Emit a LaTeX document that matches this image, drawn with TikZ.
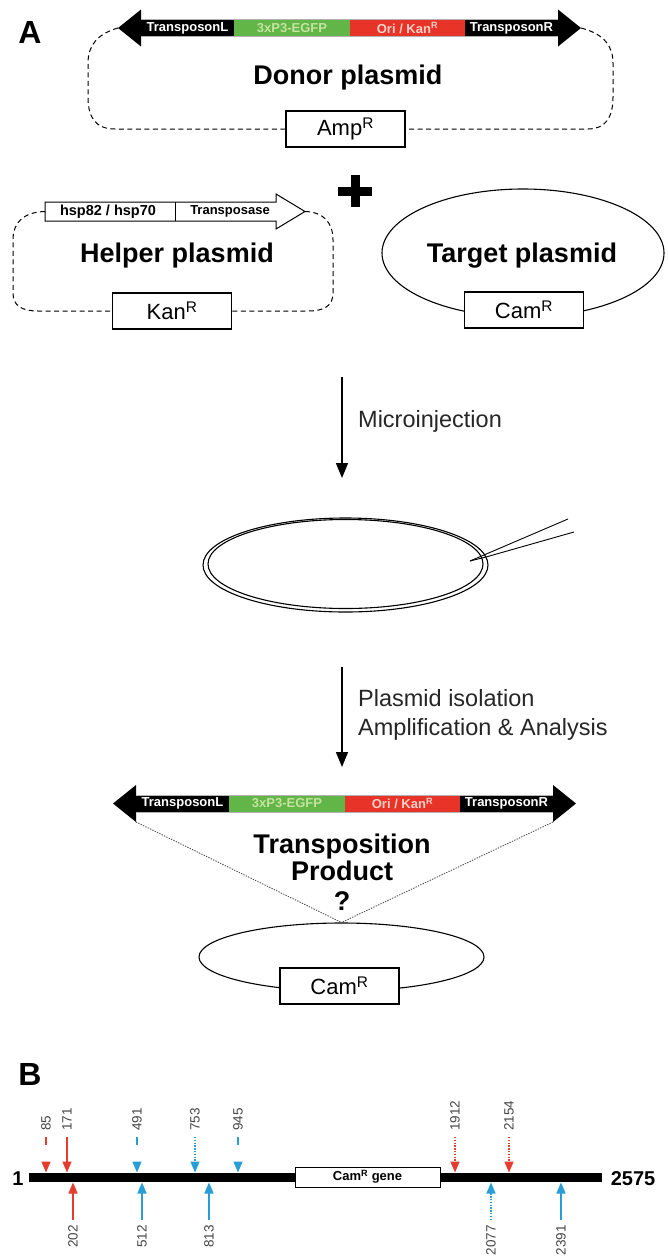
\documentclass[tikz,border=0pt]{standalone}
\usepackage{fontspec}
\setmainfont{Liberation Sans}
\usetikzlibrary{arrows.meta,shapes.geometric}
\definecolor{tngreen}{RGB}{98,181,71}
\definecolor{tnred}{RGB}{232,52,40}
\definecolor{tngtext}{RGB}{196,228,160}
\definecolor{tnrtext}{RGB}{255,208,200}
\definecolor{ptred}{RGB}{230,60,45}
\definecolor{ptblue}{RGB}{40,158,214}
\definecolor{lblgray}{RGB}{70,70,70}
\newcommand\myfs[1]{\fontsize{#1}{#1}\selectfont}
\tikzset{
  tnlab/.style={font=\myfs{13}\bfseries, inner sep=0},
  plbox/.style={draw, fill=white, line width=1.1pt, minimum width=119, minimum height=36, inner sep=0, font=\myfs{22}},
  pltitle/.style={font=\myfs{27}\bfseries, anchor=base, inner sep=0},
  proclab/.style={font=\myfs{23.5}, anchor=base west, inner sep=0, text=black!85},
  plloop/.style={dash pattern=on 5pt off 3.5pt, line width=1pt},
  flowarr/.style={-{Triangle[length=15pt,width=12pt]}, line width=1.5pt},
  plring/.style={draw, ellipse, inner sep=0, line width=1.1pt},
  prodline/.style={dash pattern=on 1.3pt off 1.3pt, line width=0.9pt, black!70},
  btip/.style={-{Triangle[length=11pt,width=9pt]}, line width=1.4pt},
  bsolid/.style={},
  bdash/.style={dash pattern=on 8pt off 40pt},
  bdot/.style={dash pattern=on 1.4pt off 1.4pt},
  blab/.style={font=\myfs{13.5}, text=lblgray, inner sep=0},
  tnbar/.pic={
    \fill[black] (0,0) -- (23,-18.5) -- (23,-8.5) -- (440,-8.5) -- (440,-18.5) -- (463,0)
      -- (440,18.5) -- (440,8.5) -- (23,8.5) -- (23,18.5) -- cycle;
    \fill[tngreen] (116,-8.5) rectangle (232,8.5);
    \fill[tnred] (232,-8.5) rectangle (347,8.5);
    \draw[gray!60, line width=0.5pt] (23,-8.5) -- (440,-8.5) (23,8.5) -- (440,8.5);
    \node[tnlab, text=white] (-tl) at (69.5,0) {TransposonL};
    \node[tnlab, text=tngtext] (-eg) at (174,0) {3xP3-EGFP};
    \node[tnlab, text=tnrtext] (-ok) at (289.5,0) {Ori / Kan\textsuperscript{R}};
    \node[tnlab, text=white] (-tr) at (393.5,0) {TransposonR};
    \coordinate (-lt) at (0,0);
    \coordinate (-rt) at (463,0);
    \coordinate (-lb) at (23,18.5);
    \coordinate (-rb) at (440,18.5);
  }
}
\begin{document}
\begin{tikzpicture}[x=1pt,y=-1pt]
\useasboundingbox[fill=white] (0,0) rectangle (667,1258);

% ---------- A ----------
\node[font=\myfs{32}\bfseries, anchor=base, inner sep=0] (labA) at (30,43) {A};

% Donor plasmid
\node[plbox] (amp) at (345.5,129) {Amp\textsuperscript{R}};
\pic (top) at (118,28) {tnbar};
\draw[plloop] (top-lt) .. controls (97,34) and (88,46) .. (88,63) -- (88,97)
  .. controls (88,118) and (96,129) .. (115,129) -- (amp.west);
\draw[plloop] (top-rt) .. controls (604,34) and (613,46) .. (613,63) -- (613,97)
  .. controls (613,118) and (605,129) .. (588,129) -- (amp.east);
\node[pltitle] (dtitle) at (348,84) {Donor plasmid};

% plus
\fill (338,186.5) rectangle (372,195.5);
\fill (350.5,175) rectangle (359.5,207);

% Helper plasmid
\node[plbox] (kan) at (172,311) {Kan\textsuperscript{R}};
\draw[line width=1pt, fill=white] (45,202) -- (276,202) -- (276,194) -- (305,211.5)
  -- (276,229) -- (276,221) -- (45,221) -- cycle;
\draw[line width=1pt] (175,202) -- (175,221);
\coordinate (htail) at (45,211.5);
\coordinate (htip) at (305,211.5);
\node[font=\myfs{14.5}\bfseries, inner sep=0] (hsp) at (108,211.5) {hsp82 / hsp70};
\node[font=\myfs{13}\bfseries, inner sep=0] (tps) at (230,211.5) {Transposase};
\draw[plloop] (htail) .. controls (24,212) and (13,222) .. (13,240) -- (13,293)
  .. controls (13,306) and (22,311) .. (38,311) -- (kan.west);
\draw[plloop] (htip) .. controls (323,212) and (333,222) .. (333,240) -- (333,293)
  .. controls (333,306) and (324,311) .. (308,311) -- (kan.east);
\node[pltitle] (htitle) at (177,262) {Helper plasmid};

% Target plasmid
\node[plring, minimum width=282, minimum height=128] (tgt) at (523,253) {};
\node[plbox] (cam1) at (524,310) {Cam\textsuperscript{R}};
\node[pltitle] (ttitle) at (522,262) {Target plasmid};

% Microinjection
\coordinate (a1s) at (342,377);
\coordinate (a1e) at (342,478);
\draw[flowarr] (a1s) -- (a1e);
\node[proclab] (mi) at (358,427) {Microinjection};

\node[plring, minimum width=285, minimum height=94] (injo) at (345.5,565) {};
\node[plring, minimum width=275, minimum height=89] (inji) at (345.5,564) {};
\coordinate (nd1) at (568,519);
\coordinate (nd2) at (574,532);
\coordinate (ndk) at (486,557);
\coordinate (ndt) at (470,561);
\draw[line width=0.9pt] (nd1) -- (ndt);
\draw[line width=0.9pt] (nd2) -- (ndk) -- (ndt);

% Plasmid isolation
\coordinate (a2s) at (342,667);
\coordinate (a2e) at (342,767);
\draw[flowarr] (a2s) -- (a2e);
\node[proclab] (pi1) at (358,706) {Plasmid isolation};
\node[proclab] (pi2) at (358,735) {Amplification \& Analysis};

% Transposition product
\pic (bot) at (113,803.5) {tnbar};
\node[plring, minimum width=285, minimum height=68] (prod) at (341.5,957) {};
\draw[prodline] (bot-lb) -- (prod.north);
\draw[prodline] (bot-rb) -- (prod.north);
\node[plbox] (cam2) at (339.5,986) {Cam\textsuperscript{R}};
\node[pltitle] (tp1) at (342,853) {Transposition};
\node[pltitle] (tp2) at (342,880) {Product};
\node[pltitle] (tp3) at (342,910) {?};

% ---------- B ----------
\node[font=\myfs{32}\bfseries, anchor=base, inner sep=0] (labB) at (30,1085) {B};
\fill (29,1173) rectangle (602,1182);
\node[draw, fill=white, line width=1pt, minimum width=145, minimum height=20, inner sep=0,
  font=\myfs{13}\bfseries] (camg) at (367.5,1177) {Cam\textsuperscript{R} gene};
\node[font=\myfs{20}\bfseries, anchor=base, inner sep=0] (one) at (18,1185) {1};
\node[font=\myfs{20}\bfseries, anchor=base, inner sep=0] (end) at (633,1185) {2575};

\foreach \x/\lab/\col/\sty in {46/85/ptred/bdash, 67/171/ptred/bsolid, 137/491/ptblue/bdash,
  195/753/ptblue/bdot, 238/945/ptblue/bdash, 455/1912/ptred/bdot, 509/2154/ptred/bdot} {
  \node[blab, rotate=90, anchor=west] (t\lab) at (\x,1131) {\lab};
  \coordinate (ts\lab) at (\x,1137);
  \coordinate (te\lab) at (\x,1172.5);
  \draw[btip, \col, \sty] (ts\lab) -- (te\lab);
}
\foreach \x/\lab/\col/\sty in {73/202/ptred/bsolid, 142/512/ptblue/bsolid, 209/813/ptblue/bsolid,
  491/2077/ptblue/bdot, 561/2391/ptblue/bsolid} {
  \node[blab, rotate=90, anchor=east] (b\lab) at (\x,1225) {\lab};
  \coordinate (bs\lab) at (\x,1220);
  \coordinate (be\lab) at (\x,1182.5);
  \draw[btip, \col, \sty] (bs\lab) -- (be\lab);
}
\end{tikzpicture}
\end{document}
